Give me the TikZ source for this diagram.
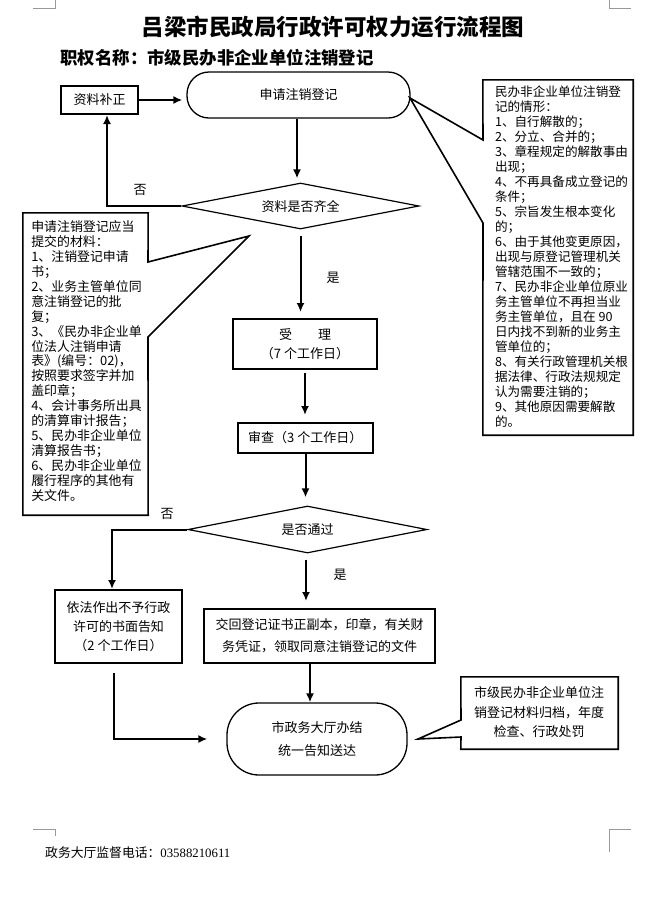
\documentclass[tikz,border=0pt]{standalone}
\usepackage{fontspec}
\setmainfont{Noto Sans CJK SC}
\newfontfamily\digitfont{Liberation Serif}
\usetikzlibrary{arrows.meta,shapes.geometric}
\begin{document}
\begin{tikzpicture}[x=1pt,y=-1pt,
  txt/.style={font=\fontsize{13pt}{19pt}\selectfont},
  box/.style={draw, line width=2pt, rectangle, inner sep=0pt, align=center, txt},
  pill/.style={draw, line width=1.3pt, rectangle, rounded corners=#1, inner sep=0pt, align=center, txt},
  dia/.style={draw, diamond, aspect=5, inner sep=0pt, line width=1.2pt, txt},
  arr/.style={line width=2pt, -{Latex[length=9pt,width=8pt]}},
  lbl/.style={txt},
  callout/.style={line width=1.6pt, line join=miter},
  cornermark/.style={black!40, line width=0.8pt},
  ghost/.style={inner sep=0pt}
]
\fill[white] (0,0) rectangle (651,903);
\useasboundingbox (0,0) rectangle (651,903);

% corner marks
\draw[cornermark] (33,8) -- (55,8) -- (55,0);
\draw[cornermark] (609,0) -- (609,8) -- (631,8);
\draw[cornermark] (33,829) -- (55,829) -- (55,836);
\draw[cornermark] (631,829) -- (609,829) -- (609,852);

% titles
\node[font=\bfseries\fontsize{22.5pt}{24pt}\selectfont] (title) at (333,27) {吕梁市民政局行政许可权力运行流程图};
\node[anchor=west, font=\bfseries\fontsize{17.4pt}{20pt}\selectfont] (sub) at (57,58) {职权名称：市级民办非企业单位注销登记};

% main nodes
\node[box, minimum width=77pt, minimum height=28pt] (bz) at (99.5,100) {资料补正};
\node[pill=22pt, minimum width=223pt, minimum height=46pt] (sq) at (298.5,95) {申请注销登记};
\node[dia, minimum width=237pt, minimum height=46pt] (d1) at (300.5,206) {资料是否齐全};
\node[box, minimum width=144pt, minimum height=50pt] (sl) at (305,344) {受　　理\\（7 个工作日）};
\node[box, minimum width=135pt, minimum height=30pt] (sc) at (305.5,438) {};
\node[txt, anchor=west, inner sep=0pt] (sct) at (248,438) {审查（3 个工作日）};
\node[dia, minimum width=239pt, minimum height=47pt] (d2) at (307.5,529.5) {是否通过};
\node[box, minimum width=127pt, minimum height=73pt] (yf) at (118.5,626.5) {依法作出不予行政\\许可的书面告知\\（2 个工作日）};
\node[box, minimum width=231pt, minimum height=54pt, font=\fontsize{13pt}{22pt}\selectfont] (jh) at (319.5,636) {交回登记证书正副本，印章，有关财\\务凭证，领取同意注销登记的文件};
\node[pill=32pt, minimum width=180pt, minimum height=72pt, font=\fontsize{13pt}{23pt}\selectfont] (bj) at (317,739) {市政务大厅办结\\统一告知送达};

% labels
\node[lbl] (no1) at (140,190) {否};
\node[lbl] (yes1) at (333,278) {是};
\node[lbl] (no2) at (167,514) {否};
\node[lbl] (yes2) at (340,575) {是};

% connectors
\draw[arr, shorten >=4pt] (bz.east) -- (bz.east -| sq.west);
\draw[arr, shorten >=4pt] ([xshift=-1.5pt]sq.south) -- ([xshift=-1.5pt]sq.south |- d1.north);
\draw[arr] (d1.west) -| ([xshift=7.5pt]bz.south);
\draw[arr, shorten <=6pt, shorten >=6pt] (d1.south) -- (d1.south |- sl.north);
\draw[arr, shorten <=3pt, shorten >=7pt] (sl.south) -- (sl.south |- sc.north);
\draw[arr, shorten >=8pt] (sc.south) -- (sc.south |- d2.north);
\draw[arr] (d2.west) -| ([xshift=-6.5pt]yf.north);
\draw[arr, shorten <=6pt, shorten >=7pt] ([xshift=-1.5pt]d2.south) -- ([xshift=-1.5pt]d2.south |- jh.north);
\draw[arr] ([xshift=-9.5pt]jh.south) -- ([xshift=-9.5pt]jh.south |- bj.north);
\draw[arr, shorten >=19pt] ([xshift=-4.5pt,yshift=-9pt]yf.south) |- (bj.west);

% left callout
\node[ghost, minimum width=125pt, minimum height=302pt] (lc) at (85.5,364) {};
\coordinate (la) at (148,262);
\coordinate (lb) at (148,337);
\coordinate (t1) at (249,236);
\draw[callout] (lc.north west) -- (lc.north east) -- (la) -- (t1) -- (lb) -- (lc.south east) -- (lc.south west) -- cycle;
\node[align=left, inner sep=0pt, font=\fontsize{12.9pt}{14.9pt}\selectfont] (lct) at (86.5,361) {申请注销登记应当\\提交的材料：\\1、注销登记申请\\书；\\2、业务主管单位同\\意注销登记的批\\复；\\3、《民办非企业单\\位法人注销申请\\表》(编号：02)，\\按照要求签字并加\\盖印章；\\4、会计事务所出具\\的清算审计报告；\\5、民办非企业单位\\清算报告书；\\6、民办非企业单位\\履行程序的其他有\\关文件。};

% right callout
\node[ghost, minimum width=150pt, minimum height=355pt] (rc) at (558,257.5) {};
\coordinate (ra) at (483,140);
\coordinate (rb) at (483,223);
\coordinate (t2) at (410,98);
\draw[callout] (rc.north west) -- (rc.north east) -- (rc.south east) -- (rc.south west) -- (rb) -- (t2) -- (ra) -- cycle;
\node[align=left, inner sep=0pt, font=\fontsize{12.6pt}{15pt}\selectfont] (rct) at (561.5,257) {民办非企业单位注销登\\记的情形：\\1、自行解散的；\\2、分立、合并的；\\3、章程规定的解散事由\\出现；\\4、不再具备成立登记的\\条件；\\5、宗旨发生根本变化\\的；\\6、由于其他变更原因，\\出现与原登记管理机关\\管辖范围不一致的；\\7、民办非企业单位原业\\务主管单位不再担当业\\务主管单位，且在 90\\日内找不到新的业务主\\管单位的；\\8、有关行政管理机关根\\据法律、行政法规规定\\认为需要注销的；\\9、其他原因需要解散\\的。};

% bottom right callout
\node[ghost, minimum width=157pt, minimum height=72pt] (bc) at (539.5,713) {};
\coordinate (ba) at (461,720);
\coordinate (bb) at (461,737);
\coordinate (t3) at (418,739);
\draw[callout] (bc.north west) -- (bc.north east) -- (bc.south east) -- (bc.south west) -- (bb) -- (t3) -- (ba) -- cycle;
\node[align=center, inner sep=0pt, font=\fontsize{13pt}{19.5pt}\selectfont] (bct) at (539,712.5) {市级民办非企业单位注\\销登记材料归档，年度\\检查、行政处罚};

% footer
\node[anchor=west, inner sep=0pt, font=\fontsize{12.8pt}{15pt}\selectfont] (ft) at (45,853) {政务大厅监督电话：{\digitfont 03588210611}};
\end{tikzpicture}
\end{document}
